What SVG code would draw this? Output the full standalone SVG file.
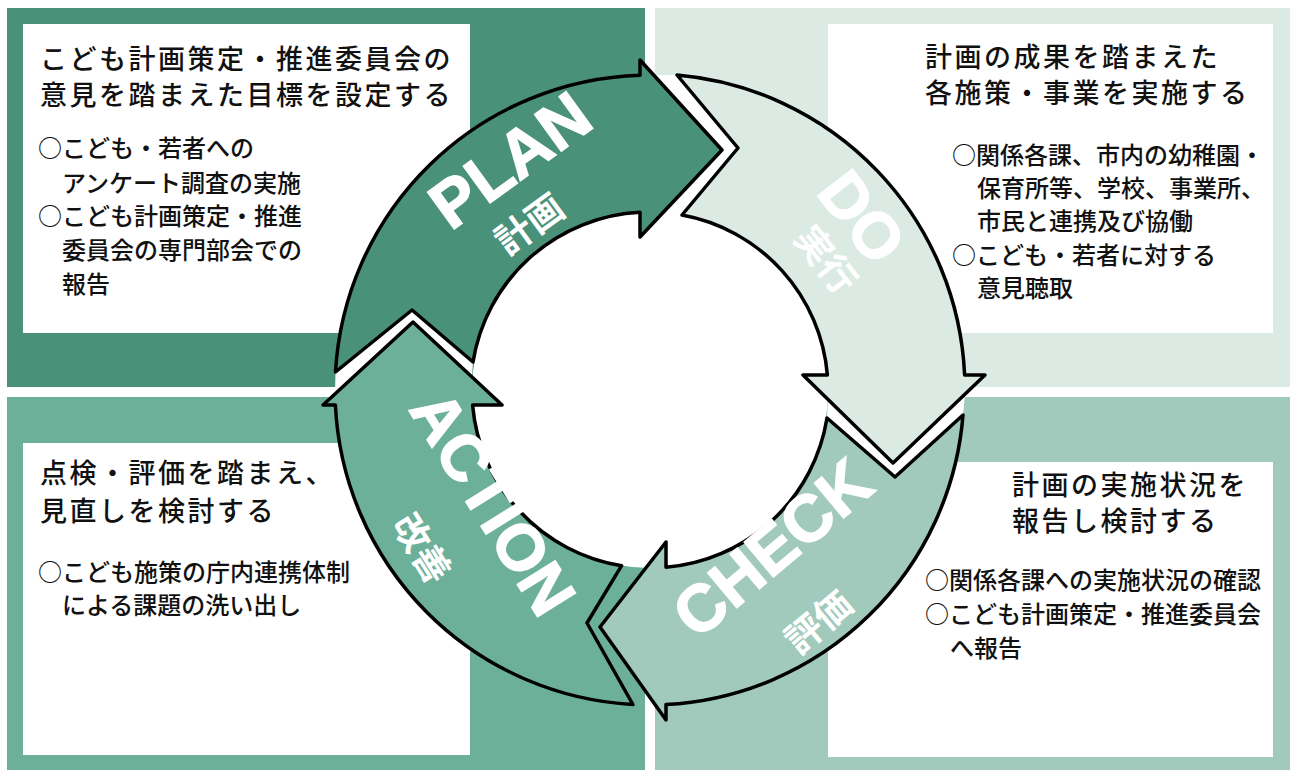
<svg xmlns="http://www.w3.org/2000/svg" width="1290" height="770" viewBox="0 0 1290 770">
<style>
.c1{fill:#4a9179}.c2{fill:#dbebe4}.c3{fill:#a2cabc}.c4{fill:#6db09a}
.box{fill:#ffffff}
.ttl{font-family:"Noto Sans CJK JP","Noto Sans",sans-serif;font-size:27px;letter-spacing:2.5px;font-weight:500;fill:#111}
.bul{font-family:"Noto Sans CJK JP","Noto Sans",sans-serif;font-size:24px;font-weight:500;fill:#111}
.arr{stroke:#000;stroke-width:3.5;stroke-linejoin:round}
.gap{fill:#ffffff}
.en{font-family:"Liberation Sans",Arial,sans-serif;font-weight:bold;fill:#fff;stroke:#fff;stroke-width:1.5;text-anchor:middle;dominant-baseline:central}
.jp{font-family:"Noto Sans CJK JP",sans-serif;font-weight:bold;fill:#fff;text-anchor:middle;dominant-baseline:central;font-size:37px}
</style>
<rect width="1290" height="770" fill="#fff"/>
<g id="plan-node">
<rect class="c1" x="7" y="8" width="638" height="379"/>
<rect class="box" x="23" y="24" width="447" height="309"/>
<text class="ttl" x="40" y="69">こども計画策定・推進委員会の</text>
<text class="ttl" x="40" y="105">意見を踏まえた目標を設定する</text>
<text class="bul" x="38" y="157">○こども・若者への</text>
<text class="bul" x="62" y="192">アンケート調査の実施</text>
<text class="bul" x="38" y="225">○こども計画策定・推進</text>
<text class="bul" x="62" y="259">委員会の専門部会での</text>
<text class="bul" x="62" y="293">報告</text>
</g>
<g id="do-node">
<rect class="c2" x="655" y="8" width="635" height="379"/>
<rect class="box" x="828" y="24" width="445" height="309"/>
<text class="ttl" x="925" y="67">計画の成果を踏まえた</text>
<text class="ttl" x="925" y="103">各施策・事業を実施する</text>
<text class="bul" x="952" y="164">○関係各課、市内の幼稚園・</text>
<text class="bul" x="977" y="197">保育所等、学校、事業所、</text>
<text class="bul" x="977" y="230">市民と連携及び協働</text>
<text class="bul" x="952" y="264">○こども・若者に対する</text>
<text class="bul" x="977" y="297">意見聴取</text>
</g>
<g id="action-node">
<rect class="c4" x="7" y="397" width="638" height="373"/>
<rect class="box" x="23" y="443" width="447" height="312"/>
<text class="ttl" x="40" y="483">点検・評価を踏まえ、</text>
<text class="ttl" x="40" y="521">見直しを検討する</text>
<text class="bul" x="38" y="581">○こども施策の庁内連携体制</text>
<text class="bul" x="62" y="614">による課題の洗い出し</text>
</g>
<g id="check-node">
<rect class="c3" x="655" y="397" width="635" height="373"/>
<rect class="box" x="828" y="462" width="445" height="295"/>
<text class="ttl" x="1012" y="495">計画の実施状況を</text>
<text class="ttl" x="1012" y="531">報告し検討する</text>
<text class="bul" x="925" y="589">○関係各課への実施状況の確認</text>
<text class="bul" x="925" y="623">○こども計画策定・推進委員会</text>
<text class="bul" x="950" y="657">へ報告</text>
</g>
<g id="connectors">
<circle cx="650" cy="390" r="178" fill="#fff"/>
<polygon class="gap" points="654,75 722,150 663,213 682,215 738,148 677,75"/>
<polygon class="gap" points="965,394 893,463 828,399.5 827,418 895,477 963,415"/>
<polygon class="gap" points="335,394 413,322 472,377 473,362 412,310 335.5,372"/>
<g id="plan-arrow">
<path class="c1 arr" d="M335.5,372 A315,315 0 0 1 640,75.2 L640,60 L722,150 L640,237 L640,212.3 A178,178 0 0 0 473,362 L412,310 Z"/>
<text class="en" font-size="66" transform="translate(510,160) rotate(-36)">PLAN</text>
<text class="jp" transform="translate(528,222) rotate(-36)">計画</text>
</g>
<g id="do-arrow">
<path class="c2 arr" d="M677,75 A315,315 0 0 1 964.6,375 L985,375 L893,463 L803,375 L827.4,375 A178,178 0 0 0 682,215 L738,148 Z"/>
<text class="en" font-size="64" transform="translate(862,217) rotate(52)">DO</text>
<text class="jp" transform="translate(828,258) rotate(52)">実行</text>
</g>
<g id="check-arrow">
<path class="c3 arr" d="M963,415 A315,315 0 0 1 666,704.6 L666,720 L600,627 L666,542 L666,567.3 A178,178 0 0 0 827,418 L895,477 Z"/>
<text class="en" font-size="66" transform="translate(772,548) rotate(-40)">CHECK</text>
<text class="jp" transform="translate(817,620) rotate(-40)">評価</text>
</g>
<g id="action-arrow">
<path class="c4 arr" d="M632.9,704.5 A315,315 0 0 1 335.4,405 L323,405 L413,322 L502,405 L472.6,405 A178,178 0 0 0 621.6,565.7 L587,623 Z"/>
<text class="en" font-size="65" transform="translate(493,503) rotate(58)">ACTION</text>
<text class="jp" transform="translate(424,547) rotate(58)">改善</text>
</g>
</g>
</svg>
